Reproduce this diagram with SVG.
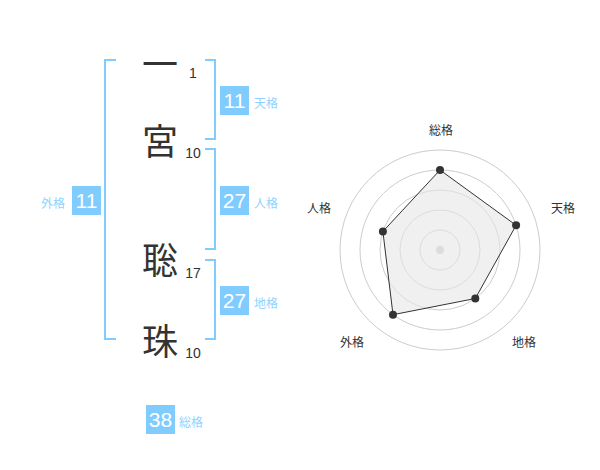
<svg xmlns="http://www.w3.org/2000/svg" width="600" height="470" viewBox="0 0 600 470">
<style>
.kanji{font-family:"Noto Sans CJK JP","Noto Sans CJK SC",sans-serif;font-size:36px;fill:#333;text-anchor:middle}
.num{font-family:"Liberation Sans",Arial,sans-serif;font-size:14px;fill:#333;text-anchor:middle}
.box{fill:#80ccff}
.boxt{font-family:"Liberation Sans",Arial,sans-serif;font-size:21px;fill:#fff;text-anchor:middle}
.lab{font-family:"Noto Sans CJK JP","Noto Sans CJK SC",sans-serif;font-size:12px;fill:#8fd2ff}
.br{fill:none;stroke:#80ccff;stroke-width:2}
.ring{fill:none;stroke:#ccc;stroke-width:1}
.rl{font-family:"Noto Sans CJK JP","Noto Sans CJK SC",sans-serif;font-size:12px;fill:#333;text-anchor:middle}
.pt{fill:#333}
</style>
<g id="name">
<text class="kanji" x="160" y="78">一</text>
<text class="num" x="193" y="78">1</text>
<text class="kanji" x="160" y="155">宮</text>
<text class="num" x="193" y="158">10</text>
<text class="kanji" x="160" y="274">聡</text>
<text class="num" x="193" y="278">17</text>
<text class="kanji" x="160" y="355">珠</text>
<text class="num" x="193" y="358">10</text>
</g>
<g id="connectors">
<path class="br" d="M116,60 H105 V339 H116"/>
<path class="br" d="M205,60 H215 V139 H205"/>
<path class="br" d="M205,149 H215 V249 H205"/>
<path class="br" d="M205,260 H215 V339 H205"/>
</g>
<g id="tenkaku">
<rect class="box" x="220" y="86" width="29" height="29"/>
<text class="boxt" x="234.5" y="108">11</text>
<text class="lab" x="254" y="108">天格</text>
</g>
<g id="jinkaku">
<rect class="box" x="220" y="186" width="29" height="29"/>
<text class="boxt" x="234.5" y="208">27</text>
<text class="lab" x="254" y="208">人格</text>
</g>
<g id="chikaku">
<rect class="box" x="220" y="286" width="29" height="29"/>
<text class="boxt" x="234.5" y="308">27</text>
<text class="lab" x="254" y="308">地格</text>
</g>
<g id="gaikaku">
<rect class="box" x="72" y="186" width="29" height="29"/>
<text class="boxt" x="86.5" y="208">11</text>
<text class="lab" x="41" y="208">外格</text>
</g>
<g id="soukaku">
<rect class="box" x="146" y="405" width="29" height="29"/>
<text class="boxt" x="160.5" y="427">38</text>
<text class="lab" x="179" y="427">総格</text>
</g>
<g id="radar">
<circle class="ring" cx="440" cy="250" r="20"/>
<circle class="ring" cx="440" cy="250" r="40"/>
<circle class="ring" cx="440" cy="250" r="60"/>
<circle class="ring" cx="440" cy="250" r="80"/>
<circle class="ring" cx="440" cy="250" r="100"/>
<circle cx="440" cy="250" r="4" fill="#ccc"/>
<polygon points="440,170 516.1,225.3 475.3,298.5 393,314.7 382.9,231.5" fill="#e6e6e6" fill-opacity="0.6" stroke="#333" stroke-width="1"/>
<circle class="pt" cx="440" cy="170" r="4"/>
<circle class="pt" cx="516.1" cy="225.3" r="4"/>
<circle class="pt" cx="475.3" cy="298.5" r="4"/>
<circle class="pt" cx="393" cy="314.7" r="4"/>
<circle class="pt" cx="382.9" cy="231.5" r="4"/>
<text class="rl" x="441" y="135">総格</text>
<text class="rl" x="563" y="213">天格</text>
<text class="rl" x="524" y="347">地格</text>
<text class="rl" x="352" y="347">外格</text>
<text class="rl" x="319" y="213">人格</text>
</g>
</svg>
